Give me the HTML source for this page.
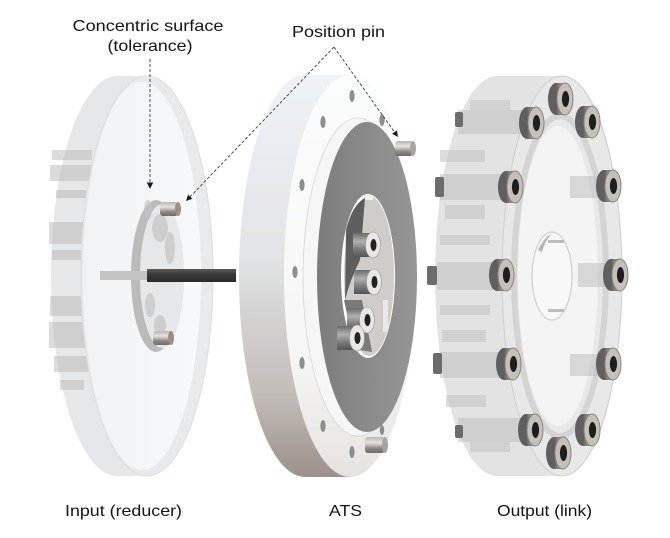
<!DOCTYPE html>
<html><head><meta charset="utf-8"><style>
html,body{margin:0;padding:0;background:#fff;}
svg{display:block;}
text{font-family:"Liberation Sans",Arial,sans-serif;fill:#141414;}
</style></head><body>
<svg width="670" height="538" viewBox="0 0 670 538" xmlns="http://www.w3.org/2000/svg">
<defs>
<linearGradient id="atsSide" x1="0" y1="75" x2="0" y2="477" gradientUnits="userSpaceOnUse">
<stop offset="0" stop-color="#eef3f8"/><stop offset="0.45" stop-color="#e2e4e6"/><stop offset="0.8" stop-color="#c2bcb8"/><stop offset="1" stop-color="#9c918b"/>
</linearGradient>
<linearGradient id="atsFace" x1="0" y1="75" x2="0" y2="477" gradientUnits="userSpaceOnUse">
<stop offset="0" stop-color="#fbfcfd"/><stop offset="0.7" stop-color="#f6f6f6"/><stop offset="1" stop-color="#e6e2df"/>
</linearGradient>
<linearGradient id="plate" x1="317" y1="0" x2="417" y2="0" gradientUnits="userSpaceOnUse">
<stop offset="0" stop-color="#7c7c7c"/><stop offset="0.5" stop-color="#8a8a8a"/><stop offset="1" stop-color="#969696"/>
</linearGradient>
<linearGradient id="pin" x1="0" y1="0" x2="0" y2="1">
<stop offset="0" stop-color="#b8b4b0"/><stop offset="0.35" stop-color="#e6e4e2"/><stop offset="0.7" stop-color="#8d8985"/><stop offset="1" stop-color="#6e6a66"/>
</linearGradient>
<linearGradient id="boltSide" x1="0" y1="0" x2="1" y2="0">
<stop offset="0" stop-color="#5e5e5e"/><stop offset="0.5" stop-color="#8e8e8e"/><stop offset="1" stop-color="#6a6a6a"/>
</linearGradient>
<linearGradient id="metal" x1="0" y1="0" x2="0" y2="1">
<stop offset="0" stop-color="#6a6a6a"/><stop offset="0.35" stop-color="#b0b0b0"/><stop offset="0.7" stop-color="#777"/><stop offset="1" stop-color="#555"/>
</linearGradient>
<linearGradient id="inFace" x1="81" y1="0" x2="213" y2="0" gradientUnits="userSpaceOnUse">
<stop offset="0" stop-color="#f0f2f4"/><stop offset="1" stop-color="#f7f9fb"/>
</linearGradient>
<linearGradient id="shaft" x1="0" y1="0" x2="0" y2="1">
<stop offset="0" stop-color="#5a5a5a"/><stop offset="0.4" stop-color="#3a3a3a"/><stop offset="1" stop-color="#2a2a2a"/>
</linearGradient>
<g id="bolt">
<ellipse cx="-9" cy="0" rx="8" ry="16" fill="#5f5f5f"/>
<rect x="-9" y="-16" width="9" height="32" fill="url(#boltSide)"/>
<ellipse cx="0" cy="0" rx="8" ry="16" fill="#c6c0ba" stroke="#8a847e" stroke-width="1"/>
<ellipse cx="0.5" cy="0" rx="3.6" ry="8" fill="#1e1e1e"/>
</g>
<g id="sbolt">
<rect x="-20" y="-12" width="20" height="24" fill="url(#metal)"/>
<ellipse cx="0" cy="0" rx="7.5" ry="13" fill="#e9e7e5" stroke="#9a9896" stroke-width="0.6"/>
<ellipse cx="0.5" cy="0" rx="3" ry="6" fill="#222"/>
</g>
</defs>

<!-- ============ INPUT DISC ============ -->
<ellipse cx="117" cy="276" rx="66" ry="200" fill="#e6e7e9"/>
<rect x="117" y="76" width="30" height="400" fill="#e6e7e9"/>
<g fill="#b9b9b9" opacity="0.5">
<rect x="52" y="150" width="40" height="10"/>
<rect x="50" y="165" width="48" height="16"/>
<rect x="56" y="190" width="30" height="8"/>
<rect x="49" y="222" width="52" height="22"/>
<rect x="52" y="250" width="40" height="10"/>
<rect x="50" y="296" width="50" height="20"/>
<rect x="49" y="322" width="44" height="26"/>
<rect x="54" y="356" width="36" height="16"/>
<rect x="60" y="380" width="24" height="10"/>
</g>
<ellipse cx="147" cy="276" rx="66" ry="200" fill="#e9eaec" stroke="#dcdddf" stroke-width="1"/>
<ellipse cx="142" cy="276" rx="59" ry="194" fill="url(#inFace)"/>
<!-- hub -->
<ellipse cx="156" cy="276" rx="25" ry="76" fill="#b5b5b5" opacity="0.9"/>
<ellipse cx="162" cy="276" rx="22" ry="72" fill="#e6e7e9"/>
<g fill="#c4c4c4" opacity="0.7">
<ellipse cx="160" cy="228" rx="8" ry="14"/>
<ellipse cx="170" cy="248" rx="5" ry="16"/>
<ellipse cx="150" cy="305" rx="5" ry="12"/>
<ellipse cx="160" cy="325" rx="6" ry="10"/>
<ellipse cx="148" cy="210" rx="4" ry="10"/>
</g>
<rect x="160" y="202" width="18" height="14" rx="3" fill="url(#pin)"/>
<ellipse cx="178" cy="209" rx="3" ry="7" fill="#9e8e80"/>
<rect x="153" y="331" width="18" height="14" rx="3" fill="url(#pin)"/>
<ellipse cx="171" cy="338" rx="3" ry="7" fill="#9e8e80"/>
<rect x="100" y="271" width="48" height="9" fill="#c4c4c4"/>
<rect x="147" y="269" width="89" height="13" fill="url(#shaft)"/>

<!-- ============ ATS ============ -->
<ellipse cx="305" cy="276" rx="66" ry="201" fill="url(#atsSide)"/>
<rect x="305" y="75" width="45" height="402" fill="url(#atsSide)"/>
<ellipse cx="350" cy="276" rx="66" ry="201" fill="url(#atsFace)"/>
<g fill="#8e8e8e">
<ellipse cx="352" cy="96" rx="2.6" ry="6"/>
<ellipse cx="323" cy="122" rx="2.6" ry="6"/>
<ellipse cx="382" cy="120" rx="2.6" ry="6"/>
<ellipse cx="302" cy="185" rx="2.6" ry="6"/>
<ellipse cx="295" cy="272" rx="2.6" ry="6"/>
<ellipse cx="302" cy="363" rx="2.6" ry="6"/>
<ellipse cx="323" cy="426" rx="2.6" ry="6"/>
<ellipse cx="352" cy="452" rx="2.6" ry="6"/>
<ellipse cx="382" cy="430" rx="2.2" ry="5"/>
</g>
<ellipse cx="358" cy="277" rx="55" ry="159" fill="#f6f6f6" stroke="#d6d6d6" stroke-width="0.8"/>
<ellipse cx="367" cy="277" rx="50" ry="155" fill="url(#plate)"/>
<ellipse cx="368" cy="276" rx="27" ry="82" fill="#ffffff"/>
<ellipse cx="369" cy="276" rx="25" ry="80" fill="#cfccc9"/>
<path d="M346,230 Q352,205 365,198 L360,260 Q350,280 345,300 Z" fill="#5e5e5e"/>
<path d="M344,300 Q350,330 360,350 L372,352 L362,300 Z" fill="#7a7a7a"/>
<rect x="383" y="300" width="5" height="32" fill="#e8e8e8"/>
<use href="#sbolt" x="373" y="245"/>
<use href="#sbolt" x="374" y="282"/>
<use href="#sbolt" x="367" y="320"/>
<use href="#sbolt" x="357" y="338"/>
<rect x="365" y="195" width="8" height="5" fill="#f0f0f0"/>
<rect x="395" y="141" width="18" height="15" rx="3" fill="url(#pin)"/>
<ellipse cx="413" cy="148.5" rx="3" ry="7.5" fill="#a9a39e"/>
<rect x="365" y="437" width="20" height="16" rx="3" fill="url(#pin)"/>
<ellipse cx="385" cy="445" rx="3" ry="8" fill="#a9a39e"/>

<!-- ============ OUTPUT ============ -->
<ellipse cx="497" cy="276" rx="62" ry="200" fill="#e3e3e3"/>
<rect x="497" y="76" width="65" height="400" fill="#e3e3e3"/>
<g fill="#c6c6c6" opacity="0.6">
<rect x="440" y="150" width="45" height="12"/>
<rect x="445" y="205" width="40" height="14"/>
<rect x="440" y="235" width="50" height="10"/>
<rect x="440" y="305" width="50" height="10"/>
<rect x="442" y="330" width="44" height="12"/>
<rect x="446" y="395" width="40" height="12"/>
<rect x="470" y="100" width="40" height="10"/>
<rect x="470" y="442" width="40" height="10"/>
</g>
<ellipse cx="562" cy="276" rx="60" ry="200" fill="#e8e8e8" stroke="#cdcdcd" stroke-width="1"/>
<ellipse cx="560" cy="276" rx="46" ry="160" fill="none" stroke="#d4d4d4" stroke-width="6"/>
<ellipse cx="558" cy="276" rx="40" ry="150" fill="#f4f4f4"/>
<ellipse cx="552" cy="276" rx="20" ry="44" fill="#f8f8f8" stroke="#cfcfcf" stroke-width="1.2"/>
<path d="M538,250 Q545,236 552,234 Q545,240 542,252 Z" fill="#b5b5b5"/>
<rect x="548" y="240" width="16" height="3" fill="#bdbdbd"/>
<rect x="548" y="309" width="16" height="3" fill="#bdbdbd"/>
<g fill="#bcbcbc" opacity="0.5">
<rect x="458" y="110" width="70" height="24"/>
<rect x="440" y="174" width="68" height="26"/>
<rect x="437" y="262" width="62" height="28"/>
<rect x="440" y="352" width="66" height="26"/>
<rect x="458" y="418" width="70" height="24"/>
<rect x="570" y="176" width="35" height="22"/>
<rect x="578" y="263" width="34" height="24"/>
<rect x="570" y="354" width="35" height="22"/>
</g>
<g fill="#6c6c6c">
<rect x="455" y="112" width="8" height="15" rx="2"/>
<rect x="435" y="177" width="9" height="20" rx="2"/>
<rect x="427" y="266" width="10" height="19" rx="2"/>
<rect x="433" y="353" width="9" height="21" rx="2"/>
<rect x="455" y="425" width="8" height="13" rx="2"/>
</g>
<use href="#bolt" x="565" y="99"/>
<use href="#bolt" x="536" y="123"/>
<use href="#bolt" x="592" y="122"/>
<use href="#bolt" x="515" y="187"/>
<use href="#bolt" x="613" y="186"/>
<use href="#bolt" x="506" y="275"/>
<use href="#bolt" x="620" y="275"/>
<use href="#bolt" x="513" y="364"/>
<use href="#bolt" x="613" y="364"/>
<use href="#bolt" x="535" y="430"/>
<use href="#bolt" x="592" y="430"/>
<use href="#bolt" x="563" y="453"/>

<!-- ============ CALLOUTS ============ -->
<g stroke="#3a3a3a" stroke-width="0.9" stroke-dasharray="3,2" fill="none">
<line x1="150" y1="59" x2="150" y2="183"/>
<line x1="334" y1="47" x2="190.2" y2="196.7"/>
<line x1="334" y1="47" x2="394.5" y2="132.1"/>
</g>
<g fill="#1a1a1a">
<polygon points="150,189 146.8,182.5 153.2,182.5"/>
<polygon points="186,201 192.4,198.8 188,194.6"/>
<polygon points="398,137 396.9,130.4 392.1,133.8"/>
</g>

<text x="148" y="31" font-size="16" text-anchor="middle" textLength="151" lengthAdjust="spacingAndGlyphs">Concentric surface</text>
<text x="150" y="51" font-size="16" text-anchor="middle" textLength="85" lengthAdjust="spacingAndGlyphs">(tolerance)</text>
<text x="338.5" y="37" font-size="16" text-anchor="middle" textLength="93" lengthAdjust="spacingAndGlyphs">Position pin</text>
<text x="123.5" y="516" font-size="16" text-anchor="middle" textLength="117" lengthAdjust="spacingAndGlyphs">Input (reducer)</text>
<text x="345.5" y="516" font-size="16" text-anchor="middle" textLength="33" lengthAdjust="spacingAndGlyphs">ATS</text>
<text x="544.5" y="516" font-size="16" text-anchor="middle" textLength="95" lengthAdjust="spacingAndGlyphs">Output (link)</text>
</svg>
</body></html>
